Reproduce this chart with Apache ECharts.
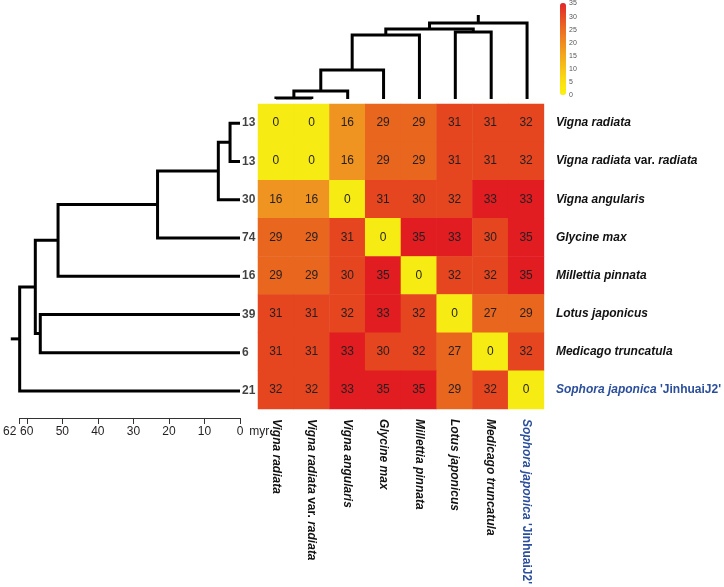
<!DOCTYPE html>
<html>
<head>
<meta charset="utf-8">
<script src="https://cdn.jsdelivr.net/npm/echarts@6/dist/echarts.min.js"></script>
<style>
  html, body, #main { margin: 0; padding: 0; width: 724px; height: 587px; overflow: hidden; background: #fff; }
</style>
</head>
<body>
<div id="main"></div>
<script>
// species, in dendrogram order (rows top->bottom, columns left->right)
const species = [
  "Vigna radiata",
  "Vigna radiata var. radiata",
  "Vigna angularis",
  "Glycine max",
  "Millettia pinnata",
  "Lotus japonicus",
  "Medicago truncatula",
  "Sophora japonica 'JinhuaiJ2'"
];
const highlight = "Sophora japonica 'JinhuaiJ2'";

// pairwise values (row i, column j)
const matrix = [
  [0, 0, 16, 29, 29, 31, 31, 32],
  [0, 0, 16, 29, 29, 31, 31, 32],
  [16, 16, 0, 31, 30, 32, 33, 33],
  [29, 29, 31, 0, 35, 33, 30, 35],
  [29, 29, 30, 35, 0, 32, 32, 35],
  [31, 31, 32, 33, 32, 0, 27, 29],
  [31, 31, 33, 30, 32, 27, 0, 32],
  [32, 32, 33, 35, 35, 29, 32, 0]
];

// numbers printed at the tips of the time tree
const leafCounts = [13, 13, 30, 74, 16, 39, 6, 21];

// tree merges (hclust style: negative = leaf, positive = earlier merge)
const treeMerge = [[-1, -2], [1, -3], [2, -4], [3, -5], [-6, -7], [4, 5], [6, -8]];
// node ages of the left (time) tree, myr
const rowTreeHeight = [2.8, 6.1, 23.2, 51.2, 56.2, 57.6, 62];
const rowRootStub = 64.5;
// node heights of the top (cluster) tree
const colTreeHeight = [1, 8, 29, 64, 67, 70, 76];
const colRootStub = 84;

// time axis ticks
const timeMax = 62;
const timeInterval = 10;

// colour scale
const scaleMin = 0, scaleMax = 35, scaleStep = 5;

const FONT = "'Liberation Sans', Arial, sans-serif";

function buildTree(merge, heights, stub) {
  const nodes = [];
  const segs = [];
  const get = (k) => (k < 0 ? { pos: -k - 1, h: 0 } : nodes[k - 1]);
  merge.forEach((m, i) => {
    const a = get(m[0]), b = get(m[1]), h = heights[i];
    segs.push([[a.h, a.pos], [h, a.pos], [h, b.pos], [b.h, b.pos]]);
    nodes.push({ pos: (a.pos + b.pos) / 2, h: h });
  });
  const root = nodes[nodes.length - 1];
  segs.push([[root.h, root.pos], [stub, root.pos]]);
  return segs;
}

function fmtName(name) {
  const blue = name === highlight;
  return name.split(" ").map((w) => {
    const plain = w === "var." || w.charAt(0) === "'";
    return "{" + (blue ? "b" : "") + (plain ? "n" : "i") + "|" + w + "}";
  }).join(" ");
}

const nameRich = {
  i: { fontStyle: "italic", fontWeight: "bold", fontSize: 12, color: "#111", fontFamily: FONT },
  n: { fontStyle: "normal", fontWeight: "bold", fontSize: 12, color: "#111", fontFamily: FONT },
  bi: { fontStyle: "italic", fontWeight: "bold", fontSize: 12, color: "#2B4E9C", fontFamily: FONT },
  bn: { fontStyle: "normal", fontWeight: "bold", fontSize: 12, color: "#2B4E9C", fontFamily: FONT }
};

let heatData = [];
matrix.forEach((row, i) => row.forEach((v, j) => heatData.push([j, i, v])));

const rowSegs = buildTree(treeMerge, rowTreeHeight, rowRootStub);
const colSegs = buildTree(treeMerge, colTreeHeight, colRootStub).map((s) => s.map((p) => [p[1], p[0]]));

const myChart = echarts.init(document.getElementById("main"));

const option = {
  animation: false,
  textStyle: { fontFamily: FONT },
  grid: [
    { left: 258, top: 104, width: 287, height: 306 }, // heatmap
    { left: 16, top: 104, width: 224, height: 306 },  // time tree
    { left: 258, top: 15, width: 287, height: 84 },   // top tree
    { left: 560, top: 3, width: 6, height: 92 }       // colour bar labels
  ],
  xAxis: [
    {
      gridIndex: 0, type: "category", data: species, position: "bottom",
      axisLine: { show: false }, axisTick: { show: false },
      axisLabel: { rotate: -90, margin: 10, formatter: fmtName, rich: nameRich, interval: 0 }
    },
    {
      gridIndex: 1, type: "value", inverse: true, min: 0, max: timeMax, interval: timeInterval,
      position: "bottom", offset: 8,
      axisLine: { show: true, onZero: false, lineStyle: { color: "#333", width: 1 } },
      axisTick: { show: true, length: 6, lineStyle: { color: "#333" } },
      splitLine: { show: false },
      axisLabel: {
        color: "#231F20", fontSize: 12, margin: 8,
        formatter: (v) => (v === timeMax ? "{m|" + v + "}" : String(v)),
        rich: { m: { fontSize: 12, color: "#231F20", padding: [0, 20, 0, 0] } }
      },
      name: "myr", nameLocation: "start", nameGap: 5,
      nameTextStyle: { color: "#231F20", fontSize: 12, verticalAlign: "top", padding: [8, 0, 0, 0] }
    },
    { gridIndex: 2, type: "value", min: -0.5, max: 7.5, show: false },
    { gridIndex: 3, type: "value", show: false }
  ],
  yAxis: [
    {
      gridIndex: 0, type: "category", data: species, inverse: true, position: "right",
      axisLine: { show: false }, axisTick: { show: false },
      axisLabel: { margin: 12, formatter: fmtName, rich: nameRich }
    },
    { gridIndex: 1, type: "value", min: -0.5, max: 7.5, inverse: true, show: false },
    { gridIndex: 2, type: "value", min: 0, max: colRootStub, show: false },
    {
      gridIndex: 3, type: "value", min: scaleMin, max: scaleMax, interval: scaleStep, position: "right",
      axisLine: { show: false }, axisTick: { show: false }, splitLine: { show: false },
      axisLabel: { fontSize: 7, color: "#555", margin: 3 }
    }
  ],
  visualMap: [
    {
      type: "piecewise", show: false, seriesIndex: 0, dimension: 2,
      pieces: [
        { lte: 5, color: "#F6EC13" },
        { gt: 5, lte: 20, color: "#EF9421" },
        { gt: 20, lte: 29, color: "#E9661F" },
        { gt: 29, lte: 32, color: "#E5461F" },
        { gt: 32, color: "#E11D22" }
      ]
    },
    {
      type: "continuous", show: true, seriesIndex: 4, min: scaleMin, max: scaleMax,
      calculable: false, left: 560, top: 3, itemWidth: 6, itemHeight: 92, padding: 0,
      text: null, showLabel: false,
      inRange: { color: ["#FDF20C", "#FAE010", "#F7C416", "#F3A71C", "#F08A20", "#EC6C22", "#E74A26", "#E2262A"] }
    }
  ],
  series: [
    {
      type: "heatmap", xAxisIndex: 0, yAxisIndex: 0, data: heatData,
      label: { show: true, color: "#231F20", fontSize: 12, fontFamily: FONT },
      emphasis: { disabled: true }
    },
    {
      type: "lines", coordinateSystem: "cartesian2d", xAxisIndex: 1, yAxisIndex: 1,
      polyline: true, clip: false, silent: true,
      lineStyle: { color: "#000", width: 3, opacity: 1, cap: "butt", join: "miter" },
      data: rowSegs.map((c) => ({ coords: c }))
    },
    {
      type: "scatter", xAxisIndex: 1, yAxisIndex: 1, symbolSize: 0, silent: true,
      data: leafCounts.map((v, i) => [0, i, v]),
      label: {
        show: true, position: "right", distance: 2, fontWeight: "bold", fontSize: 12, color: "#111",
        formatter: (p) => String(p.value[2])
      }
    },
    {
      type: "lines", coordinateSystem: "cartesian2d", xAxisIndex: 2, yAxisIndex: 2,
      polyline: true, clip: false, silent: true,
      lineStyle: { color: "#000", width: 3, opacity: 1, cap: "butt", join: "miter" },
      data: colSegs.map((c) => ({ coords: c }))
    },
    { type: "scatter", xAxisIndex: 3, yAxisIndex: 3, data: [] }
  ]
};

myChart.setOption(option);
window.onresize = myChart.resize;
</script>
</body>
</html>
